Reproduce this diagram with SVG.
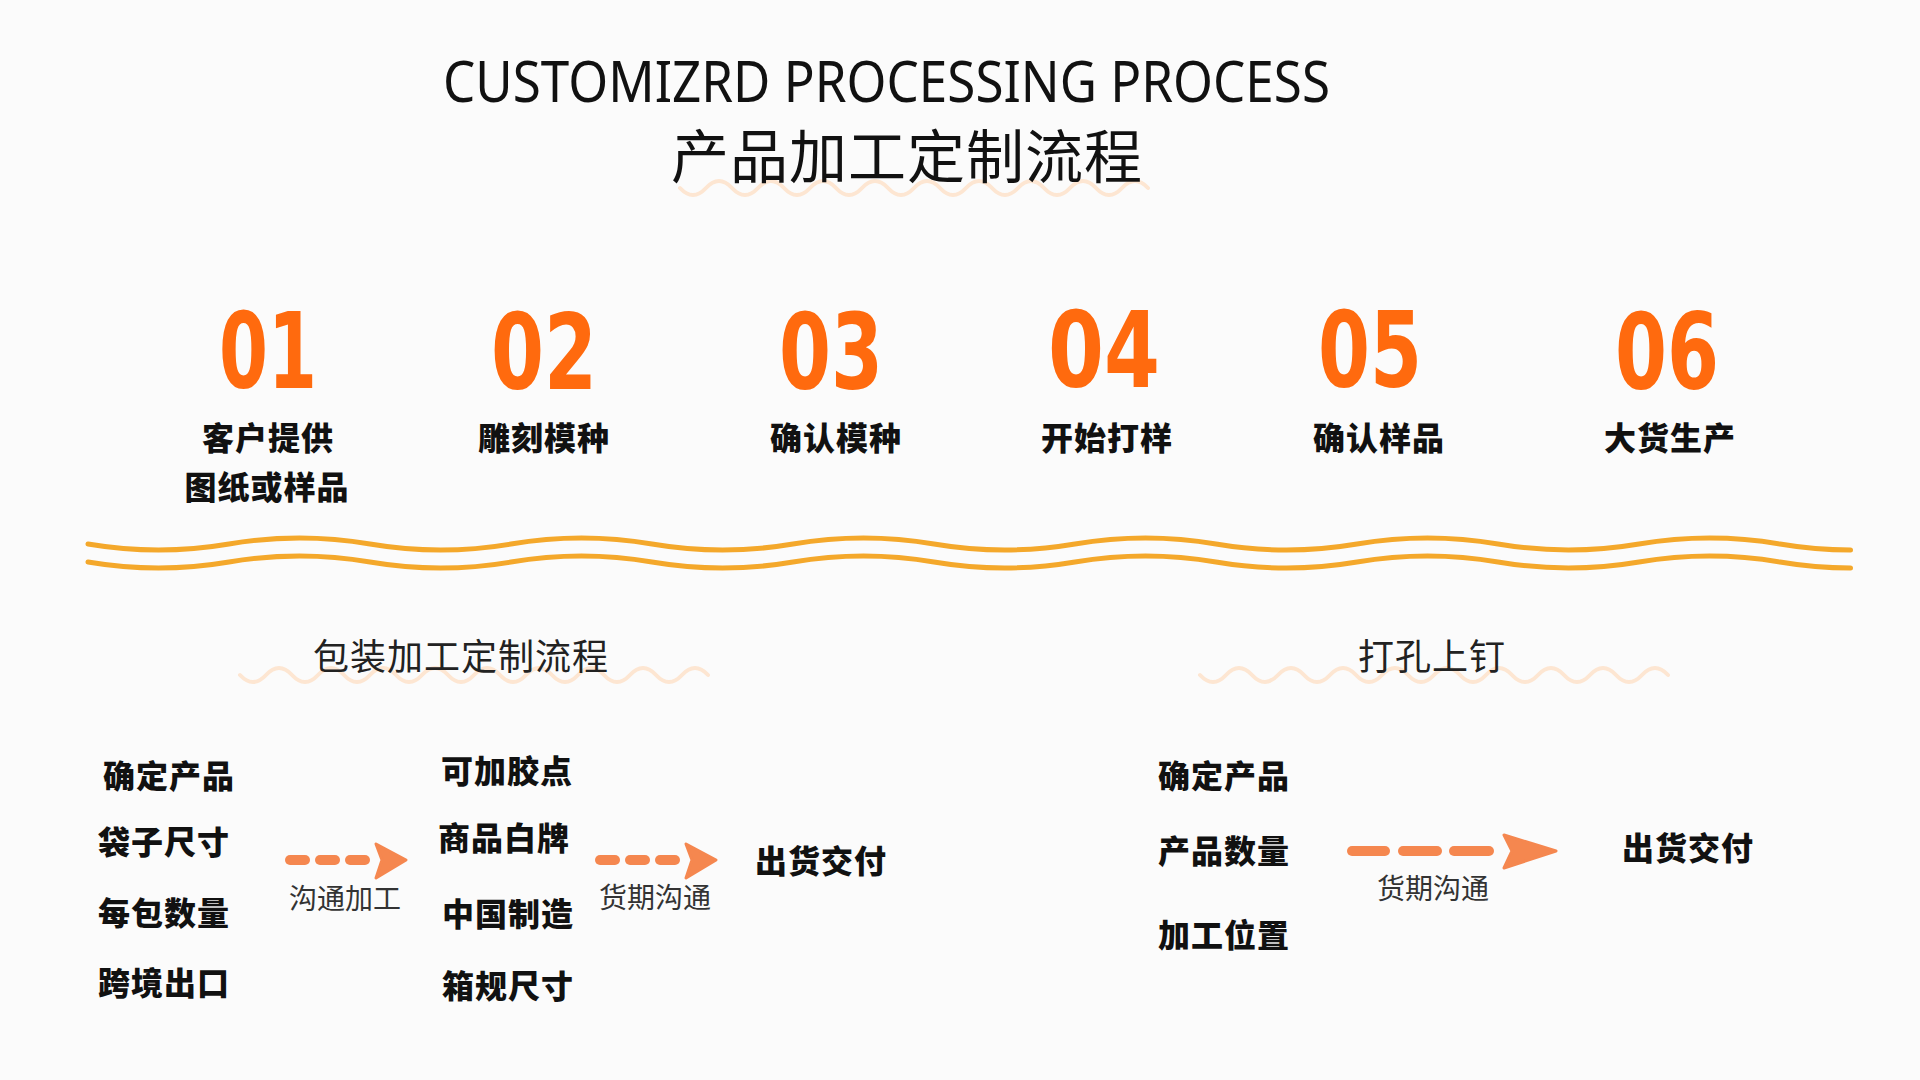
<svg xmlns="http://www.w3.org/2000/svg" width="1920" height="1080" viewBox="0 0 1920 1080">
<defs>
<style>
.bg{fill:#fbfbfb}
.title-en{font-family:"Noto Sans","Liberation Sans",sans-serif;font-size:57px;fill:#111;font-weight:400}
.title-cn{font-family:"Noto Sans CJK SC","Noto Sans",sans-serif;font-size:58px;fill:#111;font-weight:400;letter-spacing:1px}
.sec{font-family:"Noto Sans CJK SC","Noto Sans",sans-serif;font-size:36px;fill:#222;font-weight:400;letter-spacing:1px}
.num{font-family:"DejaVu Sans Condensed","DejaVu Sans","Liberation Sans",sans-serif;font-size:105px;font-weight:700;fill:#ff6a0e}
.lbl{font-family:"Noto Sans CJK SC","Noto Sans",sans-serif;font-size:32px;font-weight:900;fill:#111;letter-spacing:1px}
.note{font-family:"Noto Sans CJK SC","Noto Sans",sans-serif;font-size:28px;font-weight:400;fill:#333}
.soft{fill:none;stroke:#fde6d2;stroke-width:4;stroke-linecap:round}
.band{fill:none;stroke:#f4a82b;stroke-width:5;stroke-linecap:round}
.dash{fill:#f5874f}
.head{fill:#f5874f;stroke:#f5874f;stroke-width:3;stroke-linejoin:round}
</style>
</defs>
<rect class="bg" x="0" y="0" width="1920" height="1080"/>

<g id="title">
<path class="soft" d="M680 188 q13 14 26 0 t26 0 t26 0 t26 0 t26 0 t26 0 t26 0 t26 0 t26 0 t26 0 t26 0 t26 0 t26 0 t26 0 t26 0 t26 0 t26 0 t26 0"/>
<text class="title-en" x="443" y="102" textLength="887" lengthAdjust="spacingAndGlyphs">CUSTOMIZRD PROCESSING PROCESS</text>
<text class="title-cn" x="907" y="178" text-anchor="middle">产品加工定制流程</text>
</g>

<g id="step01">
<text class="num" x="268" y="388" text-anchor="middle" textLength="98" lengthAdjust="spacingAndGlyphs">01</text>
<text class="lbl" x="268" y="450" text-anchor="middle">客户提供</text>
<text class="lbl" x="267" y="499" text-anchor="middle">图纸或样品</text>
</g>
<g id="step02">
<text class="num" x="544" y="389" text-anchor="middle" textLength="106" lengthAdjust="spacingAndGlyphs">02</text>
<text class="lbl" x="544" y="450" text-anchor="middle">雕刻模种</text>
</g>
<g id="step03">
<text class="num" x="831" y="389" text-anchor="middle" textLength="104" lengthAdjust="spacingAndGlyphs">03</text>
<text class="lbl" x="836" y="450" text-anchor="middle">确认模种</text>
</g>
<g id="step04">
<text class="num" x="1104" y="387" text-anchor="middle" textLength="112" lengthAdjust="spacingAndGlyphs">04</text>
<text class="lbl" x="1107" y="450" text-anchor="middle">开始打样</text>
</g>
<g id="step05">
<text class="num" x="1370" y="387" text-anchor="middle" textLength="104" lengthAdjust="spacingAndGlyphs">05</text>
<text class="lbl" x="1379" y="450" text-anchor="middle">确认样品</text>
</g>
<g id="step06">
<text class="num" x="1667" y="389" text-anchor="middle" textLength="104" lengthAdjust="spacingAndGlyphs">06</text>
<text class="lbl" x="1670" y="450" text-anchor="middle">大货生产</text>
</g>

<g id="divider">
<path class="band" d="M88 544 Q158.5 556 229 544 T370 544 T511 544 T652 544 T793 544 T934 544 T1075 544 T1216 544 T1357 544 T1498 544 T1639 544 T1780 544 Q1815.25 550 1850.5 550"/>
<path class="band" d="M88 562 Q158.5 574 229 562 T370 562 T511 562 T652 562 T793 562 T934 562 T1075 562 T1216 562 T1357 562 T1498 562 T1639 562 T1780 562 Q1815.25 568 1850.5 568"/>
</g>

<g id="packaging-title">
<path class="soft" d="M240 675 q13 14 26 0 t26 0 t26 0 t26 0 t26 0 t26 0 t26 0 t26 0 t26 0 t26 0 t26 0 t26 0 t26 0 t26 0 t26 0 t26 0 t26 0 t26 0"/>
<text class="sec" x="461" y="670" text-anchor="middle">包装加工定制流程</text>
</g>
<g id="punch-title">
<path class="soft" d="M1200 675 q13 14 26 0 t26 0 t26 0 t26 0 t26 0 t26 0 t26 0 t26 0 t26 0 t26 0 t26 0 t26 0 t26 0 t26 0 t26 0 t26 0 t26 0 t26 0"/>
<text class="sec" x="1432" y="670" text-anchor="middle">打孔上钉</text>
</g>

<g id="pack-inputs">
<text class="lbl" x="103" y="788">确定产品</text>
<text class="lbl" x="98" y="854">袋子尺寸</text>
<text class="lbl" x="98" y="925">每包数量</text>
<text class="lbl" x="98" y="995">跨境出口</text>
</g>
<g id="pack-options">
<text class="lbl" x="441" y="783">可加胶点</text>
<text class="lbl" x="438" y="850">商品白牌</text>
<text class="lbl" x="442" y="926">中国制造</text>
<text class="lbl" x="442" y="998">箱规尺寸</text>
</g>
<g id="pack-delivery">
<text class="lbl" x="755" y="873">出货交付</text>
</g>

<g id="punch-inputs">
<text class="lbl" x="1158" y="788">确定产品</text>
<text class="lbl" x="1158" y="863">产品数量</text>
<text class="lbl" x="1158" y="947">加工位置</text>
</g>
<g id="punch-delivery">
<text class="lbl" x="1622" y="860">出货交付</text>
</g>

<g id="connectors">
<g id="arrow1">
<rect class="dash" x="285" y="855" width="25" height="10" rx="5"/>
<rect class="dash" x="315" y="855" width="25" height="10" rx="5"/>
<rect class="dash" x="345" y="855" width="25" height="10" rx="5"/>
<polygon class="head" points="376,844 406,860 376,878 382,860"/>
<text class="note" x="345" y="909" text-anchor="middle">沟通加工</text>
</g>
<g id="arrow2">
<rect class="dash" x="595" y="855" width="25" height="10" rx="5"/>
<rect class="dash" x="625" y="855" width="25" height="10" rx="5"/>
<rect class="dash" x="655" y="855" width="25" height="10" rx="5"/>
<polygon class="head" points="686,844 716,860 686,878 692,860"/>
<text class="note" x="655" y="908" text-anchor="middle">货期沟通</text>
</g>
<g id="arrow3">
<rect class="dash" x="1347" y="846" width="43" height="10" rx="5"/>
<rect class="dash" x="1398" y="846" width="44" height="10" rx="5"/>
<rect class="dash" x="1449" y="846" width="45" height="10" rx="5"/>
<polygon class="head" points="1504,835 1556,851 1504,868 1512,851"/>
<text class="note" x="1433" y="899" text-anchor="middle">货期沟通</text>
</g>
</g>
</svg>
